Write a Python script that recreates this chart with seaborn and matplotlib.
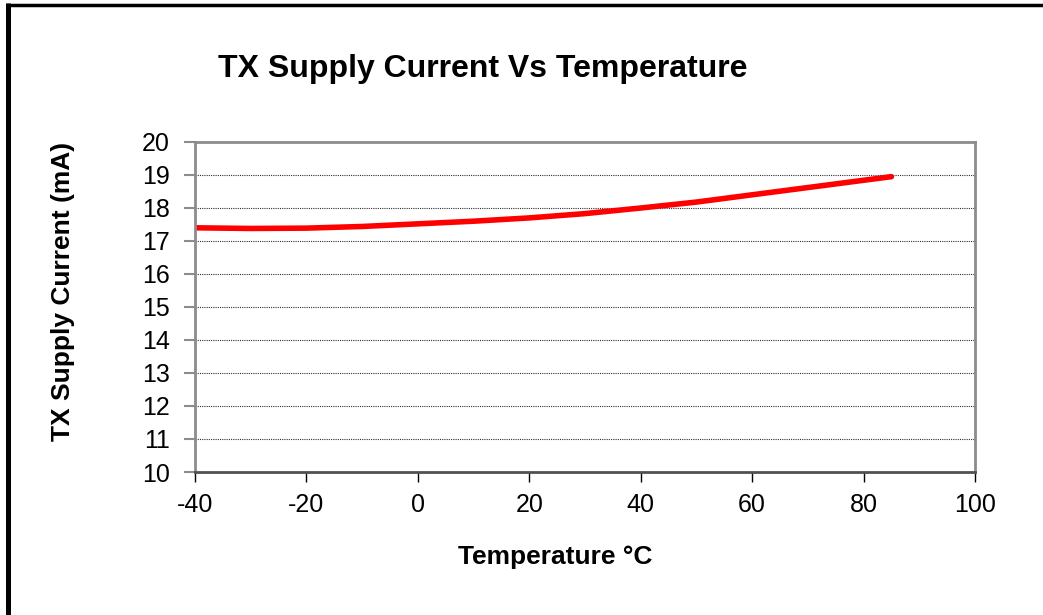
import numpy as np
import pandas as pd
import matplotlib
matplotlib.use('Agg')
import matplotlib.pyplot as plt
from matplotlib.lines import Line2D
import seaborn as sns

# 读取自图像的数据
temperature = [-40, -30, -20, -10, 0, 10, 20, 30, 40, 50, 60, 70, 80, 85]
supply_current = [17.4, 17.38, 17.39, 17.44, 17.52, 17.6, 17.7, 17.83, 18.0,
                  18.18, 18.4, 18.62, 18.84, 18.95]
x_ticks = [-40, -20, 0, 20, 40, 60, 80, 100]
y_ticks = list(range(10, 21))

df = pd.DataFrame({'temp': temperature, 'current': supply_current})

sns.set_style('white')
plt.rcParams['font.family'] = ['Liberation Sans', 'DejaVu Sans']
plt.rcParams['text.color'] = 'black'
plt.rcParams['xtick.color'] = 'black'
plt.rcParams['ytick.color'] = 'black'

fig = plt.figure(figsize=(10.43, 6.15), dpi=100)
ax = fig.add_axes([195/1043, 1 - 472/615, 780/1043, 330/615])

sns.lineplot(data=df, x='temp', y='current', ax=ax, color='#ff0000',
             linewidth=4, solid_capstyle='round')

ax.set_xlim(-40, 100)
ax.set_ylim(10, 20)
ax.set_xticks(x_ticks)
ax.set_yticks(y_ticks)
ax.set_xticklabels([str(t) for t in x_ticks], fontsize=18)
ax.set_yticklabels([str(t) for t in y_ticks], fontsize=18)
ax.set_xlabel('')
ax.set_ylabel('')

# 虚线网格
for y in y_ticks[1:-1]:
    ax.axhline(y, color='#303030', linestyle=(0, (1, 1)), linewidth=0.8, zorder=0)

for side in ['left', 'top', 'right']:
    ax.spines[side].set_color('#8c8c8c')
    ax.spines[side].set_linewidth(2)
ax.spines['bottom'].set_color('#505050')
ax.spines['bottom'].set_linewidth(2)

ax.tick_params(axis='y', direction='out', length=8, width=1.5, color='#8c8c8c',
               labelcolor='black', left=True, pad=10)
ax.tick_params(axis='x', direction='out', length=7, width=1, color='black',
               labelcolor='black', bottom=True, pad=8)

fig.text(483/1043, 1 - 69/615, 'TX Supply Current Vs Temperature',
         ha='center', va='center', fontsize=23, fontweight='bold', color='black')
fig.text(555/1043, 1 - 557/615, 'Temperature °C',
         ha='center', va='center', fontsize=19, fontweight='bold', color='black')
fig.text(63/1043, 1 - 291/615, 'TX Supply Current (mA)', rotation=90,
         ha='center', va='center', fontsize=19, fontweight='bold', color='black')

# 外框（左侧和顶部）
fig.add_artist(Line2D([7.5/1043, 7.5/1043], [0, 1 - 3/615], color='black',
                      linewidth=3.6, solid_capstyle='butt',
                      transform=fig.transFigure))
fig.add_artist(Line2D([5.5/1043, 1], [1 - 4.5/615, 1 - 4.5/615], color='black',
                      linewidth=2.5, solid_capstyle='butt',
                      transform=fig.transFigure))

fig.savefig('out.png', dpi=100)
